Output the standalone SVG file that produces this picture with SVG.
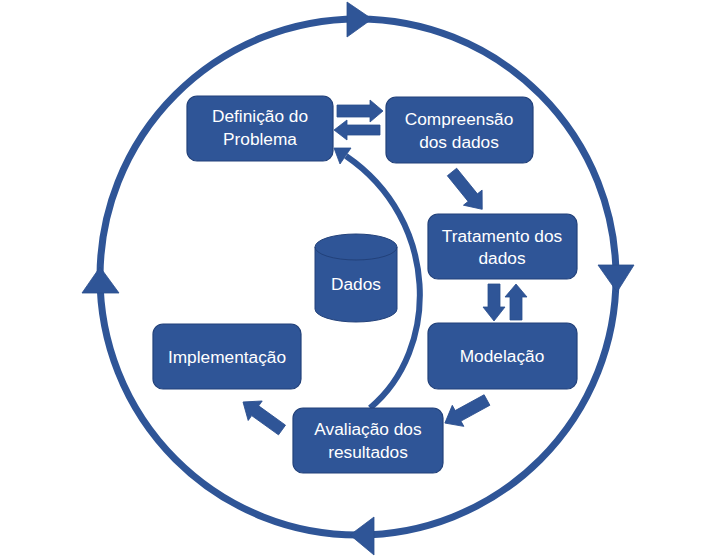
<svg xmlns="http://www.w3.org/2000/svg" width="718" height="560" viewBox="0 0 718 560">
<style>
.box{fill:#2F5597;stroke:#22417A;stroke-width:1.2}
.t{font-family:"Liberation Sans",Arial,sans-serif;font-size:17.3px;fill:#fff;text-anchor:middle}
.ar{fill:#2F5597;stroke:#2A4E8E;stroke-width:0.8}
</style>
<rect width="718" height="560" fill="#fff"/>
<g id="connectors">
<circle cx="358" cy="277" r="258" fill="none" stroke="#2F5597" stroke-width="7"/>
<polygon class="ar" points="347,2 347,37 372,19"/>
<polygon class="ar" points="598,265 634,265 617,292"/>
<polygon class="ar" points="100,267 82,293 119,293"/>
<polygon class="ar" points="350,535 374,517 374,555"/>
<polygon class="ar" points="337,105 370,105 370,100 383,111 370,122 370,117 337,117"/>
<polygon class="ar" points="380,125 347,125 347,120 334,130 347,140 347,135 380,135"/>
<polygon class="ar" points="0,-6 33,-6 33,-12 48,0 33,12 33,6 0,6" transform="translate(452,172) rotate(51)"/>
<polygon class="ar" points="488,284 500,284 500,307 505,307 494,321 483,307 488,307"/>
<polygon class="ar" points="510,320 522,320 522,297 527,297 516,284 505,297 510,297"/>
<polygon class="ar" points="0,-6 33,-6 33,-12 48,0 33,12 33,6 0,6" transform="translate(487,400) rotate(151.3)"/>
<polygon class="ar" points="0,-6 33,-6 33,-12 48,0 33,12 33,6 0,6" transform="translate(282,430) rotate(215.7)"/>
<path d="M370 408 C440 350 440 220 346 156" fill="none" stroke="#2F5597" stroke-width="6"/>
<polygon class="ar" points="334,148 351,148 340,164"/>
</g>
<g id="n-definicao">
<rect class="box" x="187" y="96" width="146" height="65" rx="10"/>
<text class="t" x="260" y="122">Definição do</text>
<text class="t" x="260" y="145">Problema</text>
</g>
<g id="n-compreensao">
<rect class="box" x="386" y="97" width="147" height="66" rx="10"/>
<text class="t" x="459" y="125">Compreensão</text>
<text class="t" x="459" y="148">dos dados</text>
</g>
<g id="n-tratamento">
<rect class="box" x="428" y="214" width="149" height="65" rx="10"/>
<text class="t" x="502" y="242">Tratamento dos</text>
<text class="t" x="502" y="264">dados</text>
</g>
<g id="n-modelacao">
<rect class="box" x="428" y="323" width="149" height="66" rx="10"/>
<text class="t" x="502" y="362">Modelação</text>
</g>
<g id="n-avaliacao">
<rect class="box" x="293" y="408" width="150" height="65" rx="10"/>
<text class="t" x="368" y="435">Avaliação dos</text>
<text class="t" x="368" y="458">resultados</text>
</g>
<g id="n-implementacao">
<rect class="box" x="153" y="324" width="148" height="65" rx="10"/>
<text class="t" x="227" y="363">Implementação</text>
</g>
<g id="n-dados">
<path d="M315 247 L315 309 A41 13 0 0 0 397 309 L397 247 A41 13 0 0 0 315 247 Z" fill="#2F5597" stroke="#22417A" stroke-width="1"/>
<path d="M315 247 A41 13 0 0 0 397 247" fill="none" stroke="#22417A" stroke-width="1"/>
<text class="t" x="356" y="290">Dados</text>
</g>
</svg>
